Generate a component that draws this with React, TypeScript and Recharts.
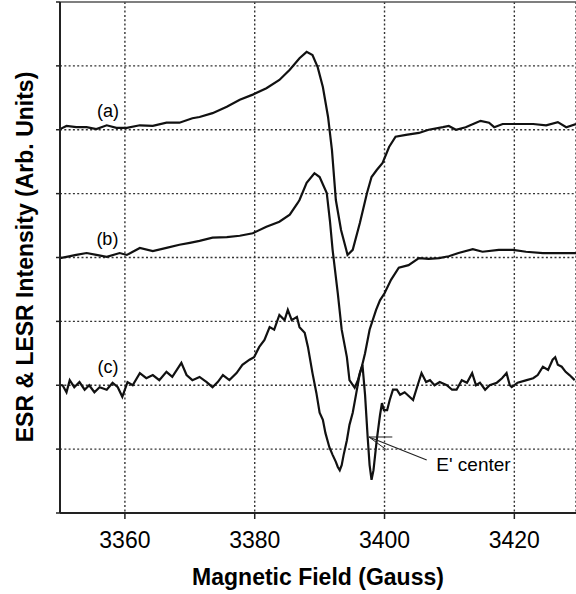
import { LineChart, Line, XAxis, YAxis, CartesianGrid, ReferenceLine, ReferenceDot, Label } from 'recharts';

// magnetic field (Gauss) and intensity (arb. units, one grid step = 1) for each trace
const fieldA = [
  3350, 3351.0, 3352.5, 3354.1, 3355.6, 3357.2, 3358.7, 3360.3, 3362.3, 3364.3,
  3366.4, 3368.4, 3370.4, 3371.5, 3373.5, 3375.7, 3377.7, 3379.7, 3381.8, 3383.8,
  3385.4, 3386.9, 3388.0, 3388.9, 3389.7, 3390.5, 3391.3, 3391.9, 3392.5, 3393.3,
  3394.1, 3394.3, 3395.1, 3396.2, 3397.3, 3398.0, 3398.8, 3399.7, 3400.7, 3401.7,
  3403.3, 3405.3, 3406.8, 3409.0, 3409.9, 3411.0, 3412.5, 3414.1, 3414.8, 3416.1,
  3416.9, 3418.2, 3420.2, 3422.9, 3424.9, 3426.7, 3428.0, 3429.5,
];
const intensityA = [
  6.01, 6.06, 6.04, 6.04, 6.01, 6.07, 6.03, 6.03, 6.07, 6.06,
  6.11, 6.11, 6.18, 6.20, 6.26, 6.36, 6.47, 6.55, 6.65, 6.78,
  6.94, 7.12, 7.22, 7.17, 6.98, 6.67, 6.20, 5.68, 4.90, 4.43,
  4.12, 4.04, 4.12, 4.54, 5.01, 5.26, 5.37, 5.48, 5.73, 5.89,
  5.92, 5.95, 6.00, 6.04, 6.06, 6.00, 6.04, 6.11, 6.14, 6.11,
  6.04, 6.09, 6.09, 6.09, 6.07, 6.12, 6.04, 6.09,
];

const fieldB = [
  3350, 3351.0, 3352.5, 3354.1, 3355.6, 3357.2, 3359.2, 3360.3, 3362.3, 3364.3,
  3366.4, 3368.4, 3370.0, 3371.5, 3373.5, 3375.7, 3377.7, 3379.7, 3381.8, 3383.8,
  3385.4, 3386.6, 3386.9, 3388.0, 3389.2, 3390.0, 3391.1, 3391.6, 3392.0, 3392.8,
  3393.4, 3394.2, 3394.6, 3395.4, 3395.9, 3396.5, 3397.0, 3397.7, 3398.7, 3399.3,
  3400.0, 3401.0, 3402.2, 3403.7, 3405.3, 3406.8, 3408.4, 3409.9, 3411.4, 3413.6,
  3415.1, 3417.6, 3419.8, 3421.8, 3424.4, 3426.9, 3429.5,
];
const intensityB = [
  3.99, 4.01, 4.04, 4.07, 4.04, 4.01, 4.07, 4.04, 4.15, 4.10,
  4.15, 4.20, 4.23, 4.26, 4.31, 4.32, 4.34, 4.38, 4.48, 4.56,
  4.67, 4.85, 4.90, 5.17, 5.32, 5.26, 5.01, 4.56, 4.12, 3.44,
  2.87, 2.44, 2.08, 1.96, 2.08, 2.29, 2.50, 2.87, 3.18, 3.33,
  3.44, 3.65, 3.84, 3.88, 3.99, 3.98, 3.99, 4.02, 4.07, 4.13,
  4.09, 4.12, 4.12, 4.09, 4.07, 4.07, 4.07,
];

const fieldC = [
  3350, 3350.4, 3351.0, 3351.5, 3352.2, 3353.0, 3353.8, 3354.5, 3355.3, 3356.1,
  3357.2, 3358.1, 3358.9, 3359.6, 3360.4, 3361.2, 3362.3, 3363.3, 3364.3, 3365.3,
  3366.4, 3367.3, 3368.7, 3369.5, 3370.4, 3371.5, 3372.6, 3373.5, 3374.3, 3375.1,
  3376.1, 3377.2, 3378.1, 3379.2, 3379.9, 3380.7, 3381.5, 3382.3, 3383.0, 3383.8,
  3384.6, 3385.1, 3385.7, 3386.5, 3386.9, 3387.7, 3388.2, 3388.9, 3389.5, 3390.0,
  3390.5, 3390.9, 3391.5, 3392.0, 3392.5, 3392.8, 3393.1, 3393.4, 3393.7, 3394.2,
  3394.6, 3395.1, 3395.6, 3396.2, 3396.6, 3397.0, 3397.4, 3397.7, 3398.0, 3398.3,
  3398.8, 3399.3, 3399.6, 3399.9, 3400.4, 3400.8, 3401.3, 3401.9, 3402.4, 3403.1,
  3404.4, 3405.1, 3405.7, 3406.4, 3407.0, 3407.7, 3408.5, 3409.6, 3410.4, 3411.1,
  3411.9, 3412.7, 3413.5, 3414.1, 3414.7, 3415.5, 3416.2, 3417.3, 3418.1, 3418.8,
  3419.3, 3419.6, 3420.5, 3421.9, 3422.9, 3423.6, 3424.4, 3425.2, 3425.9, 3426.3,
  3426.7, 3427.3, 3427.9, 3428.5, 3429.3,
];
const intensityC = [
  2.00, 2.00, 1.89, 2.08, 1.97, 2.05, 1.93, 2.00, 1.89, 1.97,
  1.93, 2.04, 1.97, 1.82, 2.05, 2.00, 2.19, 2.11, 2.16, 2.08,
  2.21, 2.13, 2.35, 2.16, 2.08, 2.13, 2.05, 1.97, 2.05, 2.16,
  2.08, 2.19, 2.32, 2.40, 2.44, 2.60, 2.71, 2.91, 2.87, 3.10,
  3.02, 3.18, 3.02, 3.07, 2.91, 2.82, 2.60, 2.19, 1.88, 1.57,
  1.46, 1.25, 1.03, 0.91, 0.80, 0.72, 0.67, 0.75, 0.91, 1.14,
  1.38, 1.57, 1.85, 2.19, 2.32, 1.85, 1.19, 0.75, 0.52, 0.67,
  1.14, 1.53, 1.72, 1.61, 1.61, 1.77, 1.93, 1.93, 1.85, 1.89,
  1.77, 2.00, 2.19, 2.05, 2.08, 2.00, 2.05, 2.00, 1.93, 1.93,
  2.08, 2.04, 2.19, 2.00, 2.04, 1.93, 2.00, 2.04, 2.11, 2.19,
  2.00, 1.97, 2.04, 2.08, 2.11, 2.16, 2.29, 2.24, 2.40, 2.44,
  2.32, 2.29, 2.21, 2.16, 2.08,
];

const xTicks = [3360, 3380, 3400, 3420];
const yTicks = [0, 1, 2, 3, 4, 5, 6, 7, 8];

const toPoints = (field: number[], intensity: number[]) =>
  field.map((B, i) => ({ B, v: intensity[i] }));

const traceA = toPoints(fieldA, intensityA);
const traceB = toPoints(fieldB, intensityB);
const traceC = toPoints(fieldC, intensityC);

const FONT = 'Arial, "Liberation Sans", Helvetica, sans-serif';
const INK = '#111';
const GRID = '#333';

const App = () => {
  return (
    <div style={{ position: 'absolute', left: 0, top: 0, width: 576, height: 594, background: '#fff', fontFamily: FONT }}>
      <LineChart width={576} height={594} margin={{ top: 2, right: 0, bottom: 0, left: 0 }}>
        <CartesianGrid horizontal={false} stroke={GRID} strokeWidth={1.4} strokeDasharray="2 2.3" />
        {yTicks.slice(1, -1).map((t) => (
          <ReferenceLine key={t} y={t} stroke={GRID} strokeWidth={1.4} strokeDasharray="2 2.3" />
        ))}
        <XAxis
          type="number"
          dataKey="B"
          domain={[3350, 3429.5]}
          ticks={xTicks}
          allowDataOverflow
          height={81}
          tickSize={6}
          tickMargin={13}
          tick={{ fontSize: 23, fill: '#000' }}
          axisLine={{ stroke: '#222', strokeWidth: 2 }}
          tickLine={{ stroke: '#222', strokeWidth: 1.5 }}
        >
          <Label
            content={() => (
              <text x={318} y={585} textAnchor="middle" fontSize={23} fontWeight="bold" fill="#000">
                Magnetic Field (Gauss)
              </text>
            )}
          />
        </XAxis>
        <YAxis
          type="number"
          dataKey="v"
          domain={[0, 8]}
          ticks={yTicks}
          width={60}
          tickSize={4}
          tickFormatter={() => ''}
          axisLine={{ stroke: '#222', strokeWidth: 2 }}
          tickLine={{ stroke: '#222', strokeWidth: 1.5 }}
        >
          <Label
            content={() => (
              <text
                x={33}
                y={257}
                transform="rotate(-90, 33, 257)"
                textAnchor="middle"
                fontSize={23}
                fontWeight="bold"
                fill="#000"
              >
                ESR &amp; LESR Intensity (Arb. Units)
              </text>
            )}
          />
        </YAxis>
        <ReferenceLine y={8} stroke="#555" strokeWidth={1.5} />

        <Line data={traceA} dataKey="v" type="linear" stroke={INK} strokeWidth={2.2} dot={false} isAnimationActive={false} />
        <Line data={traceB} dataKey="v" type="linear" stroke={INK} strokeWidth={2.2} dot={false} isAnimationActive={false} />
        <Line data={traceC} dataKey="v" type="linear" stroke={INK} strokeWidth={2.2} dot={false} isAnimationActive={false} />

        <ReferenceDot x={3357.4} y={6.3} r={0} fill="none" stroke="none" label={{ value: '(a)', position: 'center', fontSize: 18, fill: '#000' }} />
        <ReferenceDot x={3357.3} y={4.3} r={0} fill="none" stroke="none" label={{ value: '(b)', position: 'center', fontSize: 18, fill: '#000' }} />
        <ReferenceDot x={3357.4} y={2.29} r={0} fill="none" stroke="none" label={{ value: '(c)', position: 'center', fontSize: 18, fill: '#000' }} />

        <ReferenceLine segment={[{ x: 3397.6, y: 1.19 }, { x: 3401.2, y: 1.19 }]} stroke="#222" strokeWidth={1} />
        <ReferenceLine segment={[{ x: 3397.6, y: 1.19 }, { x: 3400.3, y: 0.99 }]} stroke="#222" strokeWidth={1} />
        <ReferenceLine segment={[{ x: 3397.6, y: 1.19 }, { x: 3406.5, y: 0.83 }]} stroke="#222" strokeWidth={1.2} />
        <ReferenceDot x={3413.7} y={0.77} r={0} fill="none" stroke="none" label={{ value: "E' center", position: 'center', fontSize: 19, fill: '#000' }} />
      </LineChart>
    </div>
  );
};

export default App;
